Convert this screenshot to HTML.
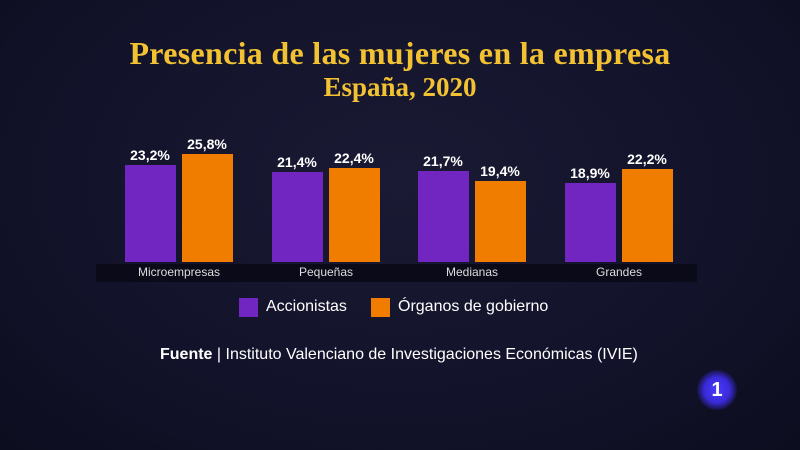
<!DOCTYPE html>
<html><head><meta charset="utf-8"><style>
body{margin:0;width:800px;height:450px;overflow:hidden;background:radial-gradient(ellipse at 50% 40%,#1a1a34 0%,#12122a 60%,#0d0d20 100%);font-family:"Liberation Sans",sans-serif;position:relative}
.t{position:absolute;left:0;width:800px;text-align:center;color:#f2c232;font-family:"Liberation Serif",serif;font-weight:bold}
.b{position:absolute;bottom:188px;width:51px}
.p{background:#7126c2}.o{background:#f07d00}
.v{position:absolute;color:#fff;font-weight:bold;font-size:14px;width:70px;text-align:center}
.band{position:absolute;left:96px;top:264px;width:601px;height:18px;background:#0a0a18}
.c{position:absolute;top:265px;color:#ddd;font-size:12px;width:140px;text-align:center}
</style></head><body>
<div class="t" style="top:35px;font-size:32px;letter-spacing:0.3px">Presencia de las mujeres en la empresa</div>
<div class="t" style="top:72px;font-size:27px">España, 2020</div>
<div class="band"></div>
<div class="b p" style="left:125px;height:97px"></div><div class="v" style="left:115px;top:147px">23,2%</div>
<div class="b o" style="left:182px;height:108px"></div><div class="v" style="left:172px;top:136px">25,8%</div>
<div class="b p" style="left:272px;height:90px"></div><div class="v" style="left:262px;top:154px">21,4%</div>
<div class="b o" style="left:329px;height:94px"></div><div class="v" style="left:319px;top:150px">22,4%</div>
<div class="b p" style="left:418px;height:91px"></div><div class="v" style="left:408px;top:153px">21,7%</div>
<div class="b o" style="left:475px;height:81px"></div><div class="v" style="left:465px;top:163px">19,4%</div>
<div class="b p" style="left:565px;height:79px"></div><div class="v" style="left:555px;top:165px">18,9%</div>
<div class="b o" style="left:622px;height:93px"></div><div class="v" style="left:612px;top:151px">22,2%</div>
<div class="c" style="left:109px">Microempresas</div>
<div class="c" style="left:256px">Pequeñas</div>
<div class="c" style="left:402px">Medianas</div>
<div class="c" style="left:549px">Grandes</div>
<div style="position:absolute;left:239px;top:298px;width:19px;height:19px;background:#7126c2"></div>
<div style="position:absolute;left:266px;top:298px;color:#fff;font-size:16px">Accionistas</div>
<div style="position:absolute;left:371px;top:298px;width:19px;height:19px;background:#f07d00"></div>
<div style="position:absolute;left:398px;top:298px;color:#fff;font-size:16px">Órganos de gobierno</div>
<div style="position:absolute;left:160px;top:346px;color:#fff;font-size:16px;white-space:nowrap"><b>Fuente</b> | Instituto Valenciano de Investigaciones Económicas (IVIE)</div>
<div style="position:absolute;left:697px;top:370px;width:40px;height:40px;border-radius:50%;background:radial-gradient(circle,#4a3cff 0%,#3a2ad8 45%,rgba(40,30,180,0) 75%);color:#fff;font-weight:bold;font-size:20px;text-align:center;line-height:40px">1</div>
</body></html>
